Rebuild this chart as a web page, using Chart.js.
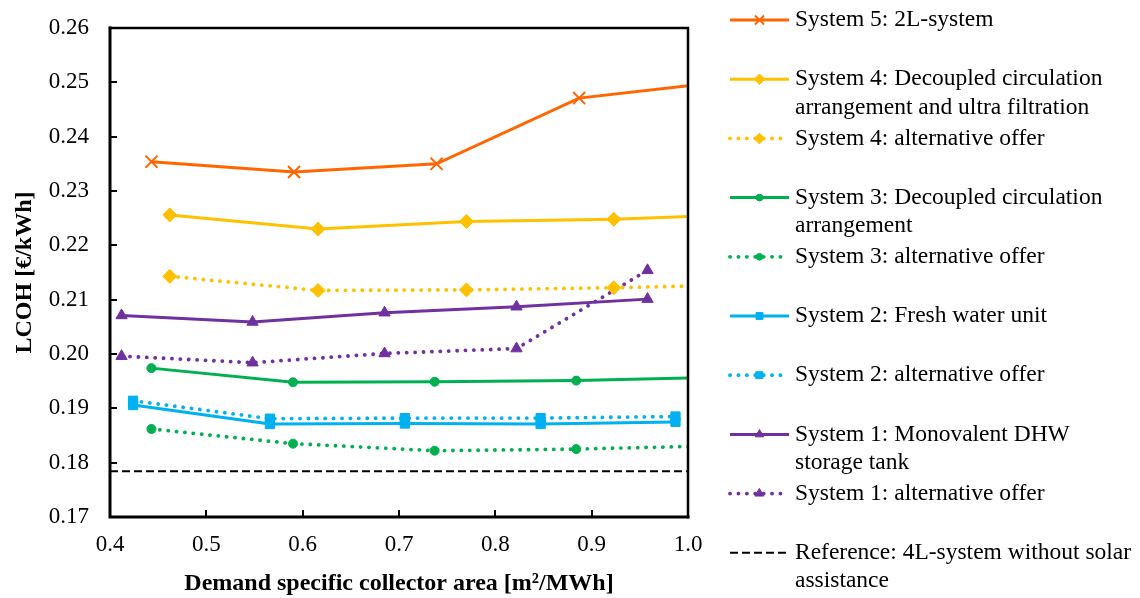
<!DOCTYPE html>
<html>
<head>
<meta charset="utf-8">
<script src="https://cdn.jsdelivr.net/npm/chart.js@4/dist/chart.umd.min.js"></script>
<style>
  html, body { margin: 0; padding: 0; background: #fff; }
  #wrap { width: 1140px; height: 598px; position: relative; }
</style>
</head>
<body>
<div id="wrap"><canvas id="lcohChart"></canvas></div>
<script>
// Данные
const sys5X = [0.443, 0.591, 0.739, 0.887, 1.035];
const sys5Y = [0.2354, 0.2335, 0.2350, 0.2471, 0.2501];

const sys4X = [0.462, 0.616, 0.770, 0.923, 1.077];
const sys4Y = [0.2256, 0.2230, 0.2244, 0.2248, 0.2258];
const sys4AltY = [0.2143, 0.2117, 0.2118, 0.2122, 0.2128];

const sys3X = [0.443, 0.590, 0.737, 0.884, 1.031];
const sys3Y = [0.1974, 0.1948, 0.1949, 0.1951, 0.1957];
const sys3AltY = [0.1862, 0.1835, 0.1822, 0.1825, 0.1831];

const sys2X = [0.424, 0.566, 0.706, 0.847, 0.987];
const sys2Y = [0.1906, 0.1871, 0.1872, 0.1871, 0.1875];
const sys2AltY = [0.1914, 0.1881, 0.1882, 0.1882, 0.1885];

const sys1X = [0.412, 0.548, 0.685, 0.822, 0.958];
const sys1Y = [0.2071, 0.2059, 0.2076, 0.2087, 0.2101];
const sys1AltY = [0.1996, 0.1984, 0.2001, 0.2010, 0.2154];

const refX = [0.4, 1.0];
const refY = [0.1784, 0.1784];

const legendLabels = [
    "System 5: 2L-system",
    "System 4: Decoupled circulation\narrangement and ultra filtration",
    "System 4: alternative offer",
    "System 3: Decoupled circulation\narrangement",
    "System 3: alternative offer",
    "System 2: Fresh water unit",
    "System 2: alternative offer",
    "System 1: Monovalent DHW\nstorage tank",
    "System 1: alternative offer",
    "Reference: 4L-system without solar\nassistance"
];

const xTitle = "Demand specific collector area [m²/MWh]";
const yTitle = "LCOH [€/kWh]";

// Цвета
const ORANGE = "#FF6600";
const GOLD = "#FFC000";
const GREEN = "#00B050";
const BLUE = "#00B0F0";
const PURPLE = "#7030A0";

const FONT = "'Liberation Serif', 'Times New Roman', serif";
const DOTS = [0.1, 8.3];

function pts(xs, ys) {
    return xs.map((x, i) => ({ x: x, y: ys[i] }));
}

function series(label, xs, ys, color, style, radius, dotted) {
    return {
        label: label,
        data: pts(xs, ys),
        borderColor: color,
        backgroundColor: color,
        borderWidth: dotted ? 3.8 : 3,
        borderDash: dotted ? DOTS : [],
        borderCapStyle: dotted ? 'round' : 'butt',
        pointStyle: style,
        pointRadius: radius,
        pointHoverRadius: radius,
        pointBorderWidth: style === 'crossRot' ? 2 : 1,
        pointBackgroundColor: color,
        pointBorderColor: color,
        tension: 0,
        clip: 0
    };
}

const datasets = [
    series(legendLabels[0], sys5X, sys5Y, ORANGE, 'crossRot', 8.5, false),
    series(legendLabels[1], sys4X, sys4Y, GOLD, 'rectRot', 7, false),
    series(legendLabels[2], sys4X, sys4AltY, GOLD, 'rectRot', 7, true),
    series(legendLabels[3], sys3X, sys3Y, GREEN, 'circle', 4.5, false),
    series(legendLabels[4], sys3X, sys3AltY, GREEN, 'circle', 4.5, true),
    series(legendLabels[5], sys2X, sys2Y, BLUE, 'rect', 6.5, false),
    series(legendLabels[6], sys2X, sys2AltY, BLUE, 'rect', 6.5, true),
    series(legendLabels[7], sys1X, sys1Y, PURPLE, 'triangle', 6.5, false),
    series(legendLabels[8], sys1X, sys1AltY, PURPLE, 'triangle', 6.5, true),
    {
        label: legendLabels[9],
        data: pts(refX, refY),
        borderColor: '#000',
        borderWidth: 2,
        borderDash: [8, 4],
        pointRadius: 0,
        pointStyle: false,
        clip: 0
    }
];

// Рамка и внутренние засечки
const framePlugin = {
    id: 'frame',
    afterDatasetsDraw(chart) {
        const { ctx, chartArea: a, scales } = chart;
        ctx.save();
        ctx.strokeStyle = '#000';
        ctx.lineCap = 'square';
        ctx.lineWidth = 2.5;
        ctx.beginPath();
        ctx.moveTo(a.left, a.top);
        ctx.lineTo(a.right, a.top);
        ctx.lineTo(a.right, a.bottom);
        ctx.stroke();
        ctx.lineWidth = 3;
        ctx.beginPath();
        ctx.moveTo(a.left, a.top);
        ctx.lineTo(a.left, a.bottom);
        ctx.lineTo(a.right, a.bottom);
        ctx.stroke();

        ctx.lineWidth = 2;
        ctx.lineCap = 'butt';
        ctx.beginPath();
        scales.y.ticks.forEach(t => {
            const py = Math.round(scales.y.getPixelForValue(t.value));
            ctx.moveTo(a.left, py);
            ctx.lineTo(a.left + 7, py);
        });
        scales.x.ticks.forEach(t => {
            const px = Math.round(scales.x.getPixelForValue(t.value));
            ctx.moveTo(px, a.bottom);
            ctx.lineTo(px, a.bottom - 7);
        });
        ctx.stroke();
        ctx.restore();
    }
};

// Легенда справа
const sideLegend = {
    id: 'sideLegend',
    afterDraw(chart) {
        const ctx = chart.ctx;
        const rowH = 29.6;
        ctx.save();
        chart.data.datasets.forEach((ds, i) => {
            const y = 20 + i * 2 * rowH;
            const dotted = ds.borderDash && ds.borderDash.length && ds.borderDash[0] < 1;
            const x0 = 730;
            const x1 = dotted ? 784 : 789;
            ctx.strokeStyle = ds.borderColor;
            ctx.lineWidth = ds.borderWidth;
            ctx.lineCap = ds.borderCapStyle || 'butt';
            ctx.setLineDash(ds.borderDash || []);
            ctx.beginPath();
            ctx.moveTo(x0, y);
            ctx.lineTo(x1, y);
            ctx.stroke();
            ctx.setLineDash([]);
            if (ds.pointStyle) {
                ctx.fillStyle = ds.pointBackgroundColor;
                ctx.strokeStyle = ds.pointBorderColor;
                ctx.lineWidth = ds.pointBorderWidth;
                Chart.helpers.drawPoint(ctx, {
                    pointStyle: ds.pointStyle,
                    radius: ds.pointRadius * 0.75,
                    borderWidth: ds.pointBorderWidth,
                    rotation: 0
                }, 759.5, y);
            }
            ctx.fillStyle = '#000';
            ctx.font = '23.5px ' + FONT;
            ctx.textBaseline = 'middle';
            ctx.textAlign = 'left';
            ds.label.split('\n').forEach((line, k) => {
                ctx.fillText(line, 795, y + k * 28.5);
            });
        });
        ctx.restore();
    }
};

function renderChart() {
    const ctx = document.getElementById('lcohChart').getContext('2d');
    new Chart(ctx, {
        type: 'line',
        data: { datasets: datasets },
        options: {
            responsive: true,
            maintainAspectRatio: false,
            animation: false,
            events: [],
            layout: { padding: { top: 28, right: 452, bottom: 0, left: 0 } },
            plugins: {
                legend: { display: false },
                tooltip: { enabled: false }
            },
            scales: {
                x: {
                    type: 'linear',
                    min: 0.4,
                    max: 1.0,
                    grid: { display: false, drawTicks: false },
                    border: { display: false },
                    ticks: {
                        stepSize: 0.1,
                        padding: 14,
                        color: '#000',
                        font: { family: FONT, size: 23 },
                        callback: v => Number(v).toFixed(1)
                    },
                    title: {
                        display: true,
                        text: xTitle,
                        color: '#000',
                        padding: { top: 0, bottom: 0 },
                        font: { family: FONT, size: 24, weight: 'bold' }
                    },
                    afterFit: s => { s.height = 81; s.paddingLeft = 0; s.paddingRight = 0; }
                },
                y: {
                    min: 0.17,
                    max: 0.26,
                    grid: { display: false, drawTicks: false },
                    border: { display: false },
                    ticks: {
                        stepSize: 0.01,
                        padding: 21,
                        color: '#000',
                        font: { family: FONT, size: 23 },
                        callback: v => Number(v).toFixed(2)
                    },
                    title: {
                        display: true,
                        text: yTitle,
                        color: '#000',
                        padding: { top: 10, bottom: 0 },
                        font: { family: FONT, size: 24, weight: 'bold' }
                    },
                    afterFit: s => { s.width = 110; s.paddingTop = 0; s.paddingBottom = 0; }
                }
            }
        },
        plugins: [framePlugin, sideLegend]
    });
}

document.addEventListener('DOMContentLoaded', renderChart);
</script>
</body>
</html>
